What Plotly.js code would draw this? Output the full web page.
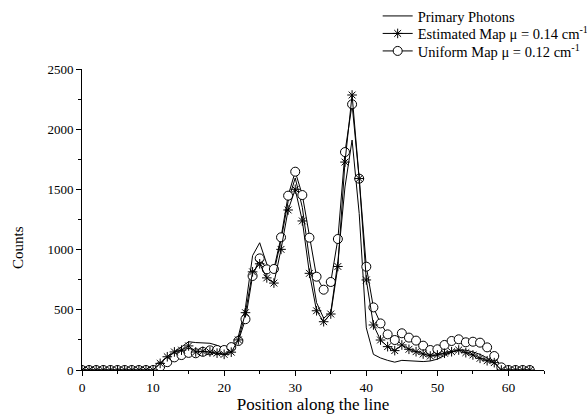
<!DOCTYPE html>
<html>
<head>
<meta charset="utf-8">
<script src="https://cdn.plot.ly/plotly-3.0.1.min.js"></script>
<style>html,body{margin:0;padding:0;background:#fff;}#chart{width:587px;height:420px;}</style>
</head>
<body>
<div id="chart"></div>
<script>
const positions = [0,1,2,3,4,5,6,7,8,9,10,11,12,13,14,15,16,17,18,19,20,21,22,23,24,25,26,27,28,29,30,31,32,33,34,35,36,37,38,39,40,41,42,43,44,45,46,47,48,49,50,51,52,53,54,55,56,57,58,59,60,61,62,63];
const primaryPhotons = [0,0,0,0,0,0,0,0,0,0,0,20,90,150,190,235,228,225,222,205,180,190,280,520,950,1057,880,810,1080,1400,1595,1350,920,560,430,480,900,1520,1910,1300,350,130,100,80,65,80,75,70,70,75,90,120,150,165,165,150,130,100,60,10,0,0,0,0];
const estimatedMap = [0,0,0,0,0,0,0,0,0,0,0,55,110,150,165,200,150,155,150,140,130,148,250,476,815,882,765,722,1002,1329,1501,1238,803,492,401,465,860,1727,2284,1590,748,374,249,194,161,208,172,152,133,116,125,139,152,166,144,125,97,77,61,0,0,0,0,0];
const uniformMap = [0,0,0,0,0,0,0,0,0,0,0,28,65,105,124,142,139,151,163,166,166,190,241,422,781,927,836,839,1102,1448,1647,1453,1099,775,667,731,1088,1810,2207,1589,858,520,387,296,249,305,269,244,202,166,172,208,241,255,230,235,227,188,116,22,0,0,0,0];
const seriesNames = ['Primary Photons', 'Estimated Map \u03bc = 0.14 cm<sup>-1</sup>', 'Uniform Map \u03bc = 0.12 cm<sup>-1</sup>'];
const xTitle = 'Position along the line';
const yTitle = 'Counts';

const FONT = 'Liberation Serif';
const LEGFONT = {family: FONT, size: 14.5, color: '#000'};

const traces = [
  {x: positions, y: primaryPhotons, name: seriesNames[0], mode: 'lines', legend: 'legend',
   line: {color: '#000', width: 1}},
  {x: positions, y: uniformMap, name: seriesNames[2], mode: 'lines+markers', legend: 'legend3',
   line: {color: '#000', width: 1},
   marker: {symbol: 'circle', size: 9, color: '#fff', line: {color: '#000', width: 1}}},
  {x: positions, y: estimatedMap, name: seriesNames[1], mode: 'lines+markers', legend: 'legend2',
   line: {color: '#000', width: 1},
   marker: {symbol: 'asterisk-open', size: 8, color: '#000', line: {color: '#000', width: 1}}}
];

function leg(ypix) {
  return {x: 0.64, y: (370 - ypix) / 301, xanchor: 'left', yanchor: 'middle',
          font: LEGFONT, bgcolor: 'rgba(0,0,0,0)', itemwidth: 30};
}

const layout = {
  width: 587, height: 420,
  margin: {l: 82, r: 43, t: 69, b: 50, autoexpand: false},
  paper_bgcolor: '#fff', plot_bgcolor: '#fff',
  font: {family: FONT, color: '#000', size: 13},
  showlegend: true,
  legend: leg(16),
  legend2: leg(33.5),
  legend3: leg(51),
  xaxis: {range: [0, 65], showgrid: false, zeroline: false, showline: true,
          linecolor: '#000', linewidth: 1, ticks: 'outside', ticklen: 5, tickwidth: 1,
          tickcolor: '#000',
          tickvals: [0,10,20,30,40,50,60],
          minor: {tickvals: [5,15,25,35,45,55,65], ticks: 'outside', ticklen: 3, tickcolor: '#000', showgrid: false},
          tickfont: {family: FONT, size: 13.5, color: '#000'},
          title: {text: xTitle, font: {family: FONT, size: 17, color: '#000'}, standoff: 1}},
  yaxis: {range: [0, 2500], showgrid: false, zeroline: false, showline: true,
          linecolor: '#000', linewidth: 1, ticks: 'outside', ticklen: 5, tickwidth: 1,
          tickcolor: '#000', tickvals: [0,500,1000,1500,2000,2500],
          minor: {tickvals: [250,750,1250,1750,2250], ticks: 'outside', ticklen: 3, tickcolor: '#000', showgrid: false},
          tickfont: {family: FONT, size: 13, color: '#000'}},
  annotations: [
    {text: yTitle, xref: 'paper', yref: 'paper', x: -64/462, y: (370-248)/301,
     xanchor: 'center', yanchor: 'middle', textangle: -90, showarrow: false,
     font: {family: FONT, size: 15, color: '#000'}}
  ]
};

Plotly.newPlot('chart', traces, layout, {displayModeBar: false, staticPlot: true});
</script>
</body>
</html>
